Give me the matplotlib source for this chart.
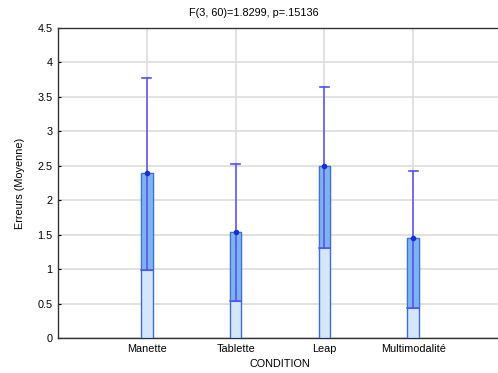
import matplotlib
matplotlib.use("Agg")
import matplotlib.pyplot as plt
import numpy as np

categories = ["Manette", "Tablette", "Leap", "Multimodalité"]
means = [2.39, 1.54, 2.49, 1.45]
upper = [3.77, 2.52, 3.65, 2.42]
lower = [0.99, 0.53, 1.31, 0.44]
yticks = [0, 0.5, 1, 1.5, 2, 2.5, 3, 3.5, 4, 4.5]
ytick_labels = ["0", "0.5", "1", "1.5", "2", "2.5", "3", "3.5", "4", "4.5"]
title = "F(3, 60)=1.8299, p=.15136"

plt.rcParams['font.family'] = ['Liberation Sans', 'DejaVu Sans']

W, H = 498, 373
fs = 7.8
fig = plt.figure(figsize=(W / 100, H / 100), dpi=100)
left_px, right_px, top_px, bot_px = 58, 502, 28, 338
ax = fig.add_axes([left_px / W, (H - bot_px) / H, (right_px - left_px) / W, (bot_px - top_px) / H])

x = np.arange(1, len(categories) + 1)
bw = 0.13
light = "#d3e6fb"
dark = "#6fa9ef"
edge = "#3a6fd8"
line_c = "#5050f5"

ax.bar(x, means, width=bw, color=light, edgecolor=edge, linewidth=1.0, zorder=3)
ax.bar(x, np.array(means) - np.array(lower), bottom=lower, width=bw, color=dark,
       edgecolor=edge, linewidth=0.8, alpha=0.85, zorder=3)
for xi, m, lo, up in zip(x, means, lower, upper):
    ax.plot([xi, xi], [lo, up], color=line_c, lw=1.1, zorder=4)
    ax.plot([xi - 0.05, xi + 0.05], [up, up], color=line_c, lw=1.2, zorder=4)
    ax.plot([xi - bw / 2, xi + bw / 2], [lo, lo], color=line_c, lw=1.1, zorder=4)
    ax.plot([xi], [m], marker='o', ms=3, color="#1a2fd0", zorder=5)

ax.set_xlim(0, 5)
ax.set_ylim(0, 4.5)
ax.set_xticks(x)
ax.set_xticklabels(categories, fontsize=fs)
ax.set_yticks(yticks)
ax.set_yticklabels(ytick_labels, fontsize=fs)
ax.tick_params(axis='both', direction='in', length=2, width=0.8, pad=4)
ax.grid(True, color="#dddddd", lw=1.2, zorder=0)
ax.set_axisbelow(True)
for s in ax.spines.values():
    s.set_color("#333333")
    s.set_linewidth(1.0)
ax.spines['right'].set_visible(False)

ax.set_xlabel("CONDITION", fontsize=fs, labelpad=4)
ax.set_ylabel("Erreurs (Moyenne)", fontsize=fs, labelpad=9)
fig.text(254 / W, 1 - 13 / H, title, fontsize=fs, ha='center', va='center')

fig.savefig("out.png", dpi=100)
